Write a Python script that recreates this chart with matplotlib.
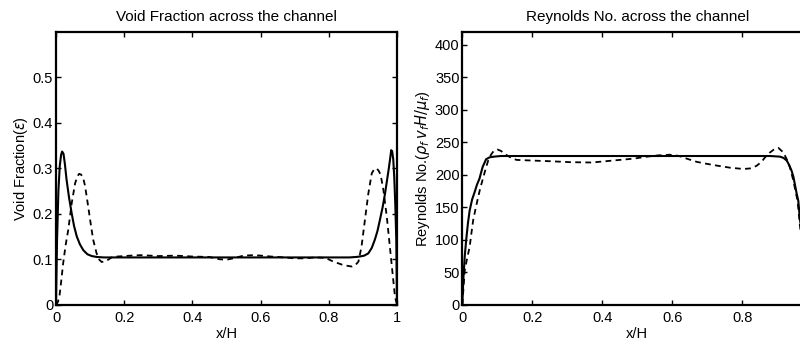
import matplotlib
matplotlib.use("Agg")
import matplotlib.pyplot as plt

plt.rcParams['font.family'] = ['Liberation Sans', 'DejaVu Sans']
plt.rcParams['mathtext.fontset'] = 'dejavusans'

# Void fraction profiles across the channel
x_vf_solid = [0, 0.003, 0.007, 0.011, 0.015, 0.018, 0.022, 0.026, 0.031, 0.038,
              0.046, 0.053, 0.061, 0.07, 0.08, 0.092, 0.105, 0.12, 0.14, 0.2,
              0.3, 0.4, 0.5, 0.6, 0.7, 0.8, 0.86, 0.88, 0.891, 0.904,
              0.916, 0.926, 0.935, 0.943, 0.95, 0.958, 0.965, 0.971, 0.976, 0.98,
              0.983, 0.986, 0.989, 0.992, 0.995, 0.998, 1.0]
vf_solid = [0, 0.14, 0.25, 0.305, 0.330, 0.337, 0.332, 0.31, 0.275, 0.237,
            0.201, 0.173, 0.15, 0.133, 0.12, 0.111, 0.107, 0.105, 0.104, 0.104,
            0.104, 0.104, 0.104, 0.104, 0.104, 0.104, 0.104, 0.105, 0.106, 0.108,
            0.113, 0.125, 0.143, 0.163, 0.187, 0.215, 0.245, 0.275, 0.300, 0.322,
            0.340, 0.337, 0.32, 0.28, 0.22, 0.14, 0.0]

x_vf_dash = [0, 0.005, 0.01, 0.015, 0.021, 0.028, 0.036, 0.046, 0.056, 0.063,
             0.068, 0.074, 0.08, 0.085, 0.09, 0.095, 0.1, 0.109, 0.119, 0.127,
             0.134, 0.141, 0.149, 0.163, 0.18, 0.22, 0.25, 0.3, 0.35, 0.4,
             0.45, 0.48, 0.5, 0.52, 0.55, 0.58, 0.6, 0.63, 0.67, 0.7,
             0.73, 0.76, 0.79, 0.813, 0.843, 0.867, 0.878, 0.887, 0.896, 0.906,
             0.916, 0.926, 0.933, 0.94, 0.946, 0.952, 0.96, 0.97, 0.979, 0.987,
             0.994, 1.0]
vf_dash = [0.0, 0.005, 0.018, 0.05, 0.091, 0.13, 0.165, 0.223, 0.267, 0.283,
           0.288, 0.286, 0.278, 0.262, 0.238, 0.213, 0.187, 0.143, 0.113, 0.099,
           0.094, 0.095, 0.097, 0.104, 0.106, 0.108, 0.109, 0.107, 0.108, 0.106,
           0.105, 0.100, 0.099, 0.102, 0.108, 0.109, 0.108, 0.106, 0.104, 0.102,
           0.102, 0.104, 0.103, 0.095, 0.087, 0.084, 0.087, 0.095, 0.128, 0.187,
           0.245, 0.289, 0.298, 0.300, 0.295, 0.286, 0.253, 0.194, 0.128, 0.069,
           0.018, 0.0]

# Reynolds number profiles across the channel
x_re_solid = [0, 0.003, 0.007, 0.011, 0.016, 0.021, 0.028, 0.035, 0.042, 0.049,
              0.058, 0.068, 0.078, 0.09, 0.11, 0.2, 0.3, 0.4, 0.5, 0.6,
              0.7, 0.8, 0.88, 0.908, 0.918, 0.927, 0.934, 0.941, 0.946, 0.95,
              0.955, 0.96, 0.965, 0.975, 0.985, 0.993, 1.0]
re_solid = [0, 40, 75, 99, 125, 145, 162, 173, 185, 194,
            212, 224, 227, 228, 229, 229, 229, 229, 229, 229,
            229, 229, 229, 228, 226, 222, 215, 206, 197, 186,
            172, 160, 130, 95, 60, 30, 0]

x_re_dash = [0, 0.004, 0.007, 0.014, 0.021, 0.026, 0.031, 0.038, 0.045, 0.052,
             0.06, 0.067, 0.074, 0.082, 0.09, 0.1, 0.11, 0.125, 0.14, 0.155,
             0.2, 0.25, 0.31, 0.37, 0.45, 0.49, 0.527, 0.56, 0.593, 0.62,
             0.641, 0.67, 0.698, 0.73, 0.765, 0.803, 0.825, 0.841, 0.855, 0.865,
             0.878, 0.889, 0.903, 0.917, 0.927, 0.936, 0.946, 0.952, 0.958, 0.965,
             0.975, 0.987, 1.0]
re_dash = [0, 30, 53, 72, 89, 110, 130, 148, 165, 181,
           196, 210, 222, 231, 237, 239, 237, 231, 226, 223,
           222, 221, 219.5, 219, 223, 225, 228, 230, 231, 229,
           225, 220, 217, 214, 211, 209, 210, 214, 220, 227,
           234, 238.5, 241.5, 234.7, 224, 211.7, 191, 175, 160, 120,
           80, 40, 0]

x_ticks = [0, 0.2, 0.4, 0.6, 0.8, 1]
x_tick_labels = ['0', '0.2', '0.4', '0.6', '0.8', '1']
# the right panel runs past the figure edge, so its last label is not shown
x_tick_labels_re = ['0', '0.2', '0.4', '0.6', '0.8', '']
vf_ticks = [0, 0.1, 0.2, 0.3, 0.4, 0.5]
vf_tick_labels = ['0', '0.1', '0.2', '0.3', '0.4', '0.5']
re_ticks = [0, 50, 100, 150, 200, 250, 300, 350, 400]
re_tick_labels = ['0', '50', '100', '150', '200', '250', '300', '350', '400']

W, H = 800, 340
fig = plt.figure(figsize=(W / 100, H / 100), dpi=100)
fig.patch.set_facecolor('white')

bottom = (H - 304.7) / H
height = (304.7 - 32) / H
ax1 = fig.add_axes([56 / W, bottom, 341 / W, height])
ax2 = fig.add_axes([462.3 / W, bottom, 350 / W, height])


def style(ax):
    for s in ax.spines.values():
        s.set_linewidth(1.6)
        s.set_color('black')
    ax.tick_params(direction='in', length=3.5, width=1.0, top=True, right=True,
                   labelsize=10.5, colors='black')
    ax.tick_params(axis='x', pad=4.5)
    ax.tick_params(axis='y', pad=2)


ax1.plot(x_vf_solid, vf_solid, color='black', lw=1.5, solid_joinstyle='round')
ax1.plot(x_vf_dash, vf_dash, color='black', lw=1.3, linestyle=(0, (3.2, 2.4)))
ax1.set_xlim(0, 1)
ax1.set_ylim(0, 0.6)
ax1.set_xticks(x_ticks)
ax1.set_xticklabels(x_tick_labels)
ax1.set_yticks(vf_ticks)
ax1.set_yticklabels(vf_tick_labels)
ax1.set_title('Void Fraction across the channel', fontsize=11, pad=8)
ax1.set_xlabel('x/H', fontsize=10.5, labelpad=1.5)
ax1.set_ylabel(r'Void Fraction($\epsilon$)', fontsize=10.5, labelpad=2)
style(ax1)

ax2.plot(x_re_solid, re_solid, color='black', lw=1.5, solid_joinstyle='round')
ax2.plot(x_re_dash, re_dash, color='black', lw=1.3, linestyle=(0, (3.2, 2.4)))
ax2.set_xlim(0, 1)
ax2.set_ylim(0, 420)
ax2.set_xticks(x_ticks)
ax2.set_xticklabels(x_tick_labels_re)
ax2.set_yticks(re_ticks)
ax2.set_yticklabels(re_tick_labels)
ax2.set_title('Reynolds No. across the channel', fontsize=11, pad=8)
ax2.set_xlabel('x/H', fontsize=10.5, labelpad=1.5)
ax2.set_ylabel(r'Reynolds No.($\rho_f\,v_f H/\mu_f$)', fontsize=10.5, labelpad=2)
style(ax2)

fig.savefig('out.png', dpi=100)
